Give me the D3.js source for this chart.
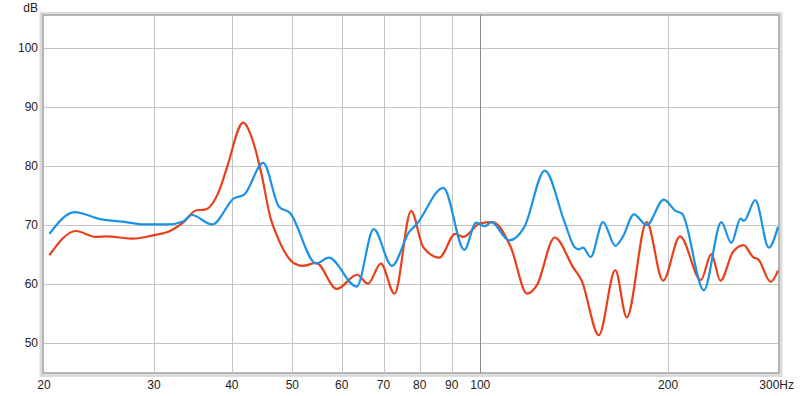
<!DOCTYPE html>
<meta charset="utf-8">
<style>
  body { margin: 0; background: #fff; }
  .tick-label { font-family: "Liberation Sans", Arial, sans-serif; font-size: 12px; fill: #222; }
</style>
<script src="https://d3js.org/d3.v7.min.js"></script>
<div id="chart"></div>
<script>
// frequency response data (Hz, dB)
const blueFreq = [20.4, 22.4, 24.6, 27.1, 28.9, 31.6, 33.4, 34.5, 37.2, 40.3, 41.9, 44.9, 47.6, 49.5, 54.6, 57.2, 63.4, 67.5, 72.2, 77.0, 78.9, 87.3, 94.3, 98.5, 101.7, 104.2, 111.3, 117.6, 126.9, 136.5, 141.6, 144.0, 146.1, 150.3, 157.3, 164.6, 169.0, 176.3, 184.8, 196.8, 205.6, 210.7, 228.2, 243.4, 252.5, 261.4, 264.5, 275.9, 290.0, 300];
const blueDb   = [68.5, 72.2, 71.0, 70.5, 70.1, 70.1, 70.6, 71.7, 70.1, 74.5, 75.2, 80.5, 73.1, 72.1, 63.5, 64.5, 59.6, 69.3, 63.1, 68.9, 70.0, 76.3, 65.8, 70.4, 69.8, 70.5, 67.4, 69.6, 79.2, 70.5, 66.3, 65.9, 66.2, 64.6, 70.5, 66.5, 67.9, 71.8, 70.0, 74.3, 72.4, 71.9, 59.0, 70.5, 67.0, 71.1, 70.7, 74.2, 66.2, 69.7];

const redFreq = [20.4, 22.5, 24.2, 25.2, 27.8, 30.0, 31.7, 33.4, 35.1, 36.2, 38.3, 39.3, 41.7, 43.2, 44.6, 46.1, 47.2, 50.4, 52.0, 54.6, 58.9, 63.5, 66.1, 69.3, 72.9, 77.5, 81.0, 86.0, 91.2, 94.0, 100, 104.6, 111.9, 118.9, 123.2, 131.6, 140.8, 145.4, 154.9, 164.6, 171.7, 184.8, 196.3, 209.0, 225.7, 234.6, 242.6, 254.2, 264.3, 273.6, 279.0, 292.0, 300];
const redDb   = [64.9, 69.0, 68.0, 68.1, 67.7, 68.3, 68.9, 70.4, 72.5, 72.6, 76.2, 79.8, 87.3, 84.3, 78.7, 71.3, 68.3, 63.5, 63.1, 63.6, 59.2, 61.6, 60.1, 63.5, 58.4, 72.4, 66.3, 64.5, 68.5, 68.0, 70.3, 70.5, 66.3, 58.4, 59.8, 67.9, 62.9, 60.6, 51.4, 62.4, 54.4, 70.5, 60.6, 68.1, 60.7, 65.1, 60.6, 65.5, 66.6, 64.6, 64.2, 60.4, 62.3];

const xTicks = [20, 30, 40, 50, 60, 70, 80, 90, 100, 200, 300];
const yTicks = [50, 60, 70, 80, 90, 100];

const W = 800, H = 396;
const plot = {left: 44, right: 778, top: 15, bottom: 373};

const svg = d3.select("#chart").append("svg")
    .attr("width", W)
    .attr("height", H);

const x = d3.scaleLog().domain([20, 300]).range([plot.left, plot.right]);
const y = d3.scaleLinear().domain([45, 105.5]).range([plot.bottom, plot.top]);

// frame shadow
svg.append("rect")
    .attr("x", plot.left - 3).attr("y", plot.top - 1.5)
    .attr("width", plot.right - plot.left + 6).attr("height", plot.bottom - plot.top + 4)
    .attr("fill", "none").attr("stroke", "#dcdcdc").attr("stroke-width", 3);
svg.append("rect")
    .attr("x", plot.left - 1).attr("y", plot.top)
    .attr("width", plot.right - plot.left + 2).attr("height", plot.bottom - plot.top)
    .attr("fill", "#fff").attr("stroke", "#b4b4b4").attr("stroke-width", 2);

// grid
svg.append("g").selectAll("line")
  .data(yTicks)
  .join("line")
    .attr("x1", plot.left).attr("x2", plot.right)
    .attr("y1", d => Math.round(y(d)) + 0.5).attr("y2", d => Math.round(y(d)) + 0.5)
    .attr("stroke", "#c4c4c4");

svg.append("g").selectAll("line")
  .data(xTicks.slice(1, -1))
  .join("line")
    .attr("x1", d => Math.round(x(d)) + 0.5).attr("x2", d => Math.round(x(d)) + 0.5)
    .attr("y1", plot.top).attr("y2", plot.bottom)
    .attr("stroke", d => d === 100 ? "#8a8a8a" : "#c4c4c4");

// tick labels
svg.append("g").selectAll("text")
  .data(yTicks)
  .join("text")
    .attr("class", "tick-label")
    .attr("x", 38).attr("y", d => y(d) + 4)
    .attr("text-anchor", "end")
    .text(d => d);

svg.append("text")
    .attr("class", "tick-label")
    .attr("x", 38).attr("y", 12)
    .attr("text-anchor", "end")
    .text("dB");

svg.append("g").selectAll("text")
  .data(xTicks)
  .join("text")
    .attr("class", "tick-label")
    .attr("x", d => d === 300 ? 794 : x(d))
    .attr("y", 389)
    .attr("text-anchor", d => d === 300 ? "end" : "middle")
    .text(d => d === 300 ? "300Hz" : d);

// curves
const line = d3.line()
    .x(d => x(d[0]))
    .y(d => y(d[1]))
    .curve(d3.curveMonotoneX);

const series = [
  {pts: d3.zip(redFreq, redDb), color: "#e8401a"},
  {pts: d3.zip(blueFreq, blueDb), color: "#1b92e4"}
];

svg.append("g")
  .selectAll("path")
  .data(series)
  .join("path")
    .attr("d", d => line(d.pts))
    .attr("fill", "none")
    .attr("stroke", d => d.color)
    .attr("stroke-width", 2.2)
    .attr("stroke-linejoin", "round");
</script>
</html>
